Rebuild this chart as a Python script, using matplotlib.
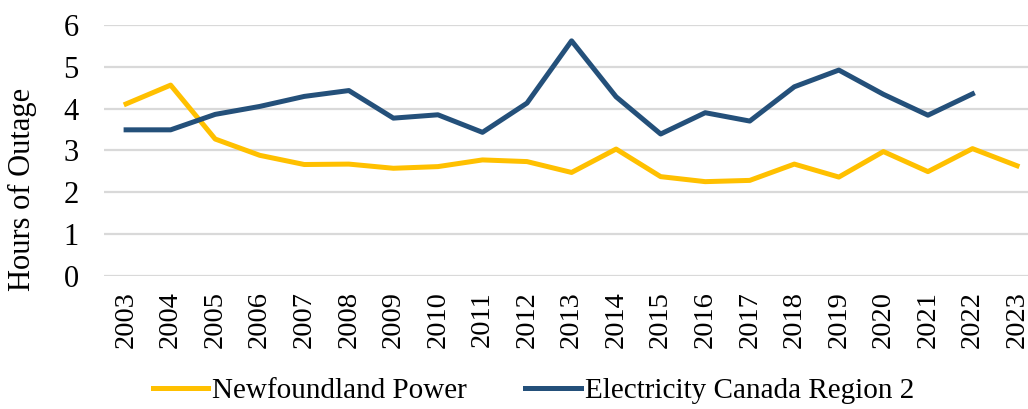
import matplotlib.pyplot as plt
import numpy as np

plt.rcParams['font.family'] = ['Liberation Serif', 'DejaVu Serif']

years = [str(y) for y in range(2003, 2024)]
nf_power = [4.11, 4.56, 3.27, 2.88, 2.66, 2.67, 2.57, 2.61, 2.77, 2.73, 2.47,
            3.03, 2.37, 2.25, 2.28, 2.67, 2.36, 2.97, 2.49, 3.04, 2.63]
ec_region2 = [3.49, 3.49, 3.86, 4.05, 4.29, 4.43, 3.77, 3.85, 3.43, 4.13, 5.62,
              4.28, 3.39, 3.90, 3.70, 4.52, 4.92, 4.34, 3.84, 4.35]

fig = plt.figure(figsize=(10.28, 4.09), dpi=100)
ax = fig.add_axes([0.101, 0.326, 0.91, 0.613])

x = np.arange(len(years))
ax.plot(x, nf_power, color='#FFC000', lw=3.6, label='Newfoundland Power')
ax.plot(x[:len(ec_region2)], ec_region2, color='#24507A', lw=3.6,
        label='Electricity Canada Region 2')

ax.set_xlim(-0.5, len(years) - 0.5)
ax.set_ylim(0, 6)
ax.set_yticks(range(0, 7))
ax.set_xticks(x)
ax.set_xticklabels(years, rotation=90, fontsize=20.5)
ax.tick_params(axis='y', labelsize=22, length=0, pad=18)
ax.tick_params(axis='x', length=0, pad=11)
ax.yaxis.grid(True, color='#D9D9D9', lw=1.6)
ax.set_axisbelow(True)
for s in ax.spines.values():
    s.set_visible(False)
ax.set_ylabel('Hours of Outage', fontsize=22)
ax.yaxis.set_label_coords(-0.071, 0.343)

fig.legend(loc='center', bbox_to_anchor=(0.519, 0.045), ncol=2, frameon=False,
           fontsize=21, handlelength=1.9, handletextpad=0.15, columnspacing=2.0)

fig.savefig('out.png', dpi=100)
